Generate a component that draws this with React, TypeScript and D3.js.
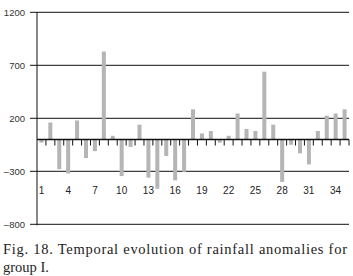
import React from "react";
import * as d3 from "d3";

const categories: number[] = Array.from({ length: 35 }, (_, i) => i + 1);
const anomalies: number[] = [
  -30, 160, -280, -320, 180, -175, -110, 830, 35, -345,
  -70, 140, -360, -465, -155, -385, -305, 285, 57, 80,
  -30, 35, 245, 100, 80, 640, 140, -400, -50, -130,
  -235, 80, 225, 245, 285,
];
const yTicks: number[] = [1200, 700, 200, -300, -800];
const xLabels: number[] = [1, 4, 7, 10, 13, 16, 19, 22, 25, 28, 31, 34];
const captionLines: string[] = [
  "Fig. 18. Temporal evolution of rainfall anomalies for",
  "group I.",
];

export default function App() {
  const W = 353, H = 276;
  const left = 37, right = 349, top = 12.3, bottom = 224.3;
  const x = d3.scaleBand<number>().domain(categories).range([left, right]).paddingInner(0.55).paddingOuter(0.27);
  const xb = d3.scaleBand<number>().domain(categories).range([left, right]);
  const y = d3.scaleLinear().domain([-800, 1200]).range([bottom, top]);
  const fmt = (v: number) => (v < 0 ? "\u2013" + Math.abs(v) : String(v));
  const y0 = y(0);
  return (
    <svg width={W} height={H} style={{ position: "absolute", left: 0, top: 0, background: "#fff" }}>
      {yTicks.map((t) => (
        <g key={t}>
          <line x1={30} x2={right} y1={y(t)} y2={y(t)} stroke="#111" strokeWidth={1} />
          <text x={25} y={y(t)} dy="0.35em" textAnchor="end" fontFamily="Liberation Sans, Arial, sans-serif" fontSize={9.5} fill="#333">
            {fmt(t)}
          </text>
        </g>
      ))}
      <line x1={left} x2={left} y1={top} y2={bottom + 1} stroke="#111" strokeWidth={1} />
      {anomalies.map((v, i) => {
        const c = categories[i];
        const y1 = y(Math.max(v, 0));
        const y2 = y(Math.min(v, 0));
        return <rect key={c} x={x(c)} width={x.bandwidth()} y={y1} height={Math.max(0.5, y2 - y1)} fill="#b5b5b5" />;
      })}
      <line x1={left} x2={right} y1={y0} y2={y0} stroke="#111" strokeWidth={1.6} />
      {categories.map((c) => (
        <line key={c} x1={(xb(c) as number) + xb.bandwidth()} x2={(xb(c) as number) + xb.bandwidth()} y1={y0} y2={y0 + 6} stroke="#111" strokeWidth={1} />
      ))}
      {xLabels.map((c) => (
        <text key={c} x={(xb(c) as number) + xb.bandwidth() / 2} y={194} textAnchor="middle" fontFamily="Liberation Sans, Arial, sans-serif" fontSize={10} fill="#222">
          {c}
        </text>
      ))}
      <text x={3} y={253.5} fontFamily="Liberation Serif, Times New Roman, serif" fontSize={14.5} fill="#222" textLength={344} lengthAdjust="spacing">
        {captionLines[0]}
      </text>
      <text x={3} y={271.5} fontFamily="Liberation Serif, Times New Roman, serif" fontSize={14.5} fill="#222">
        {captionLines[1]}
      </text>
    </svg>
  );
}
